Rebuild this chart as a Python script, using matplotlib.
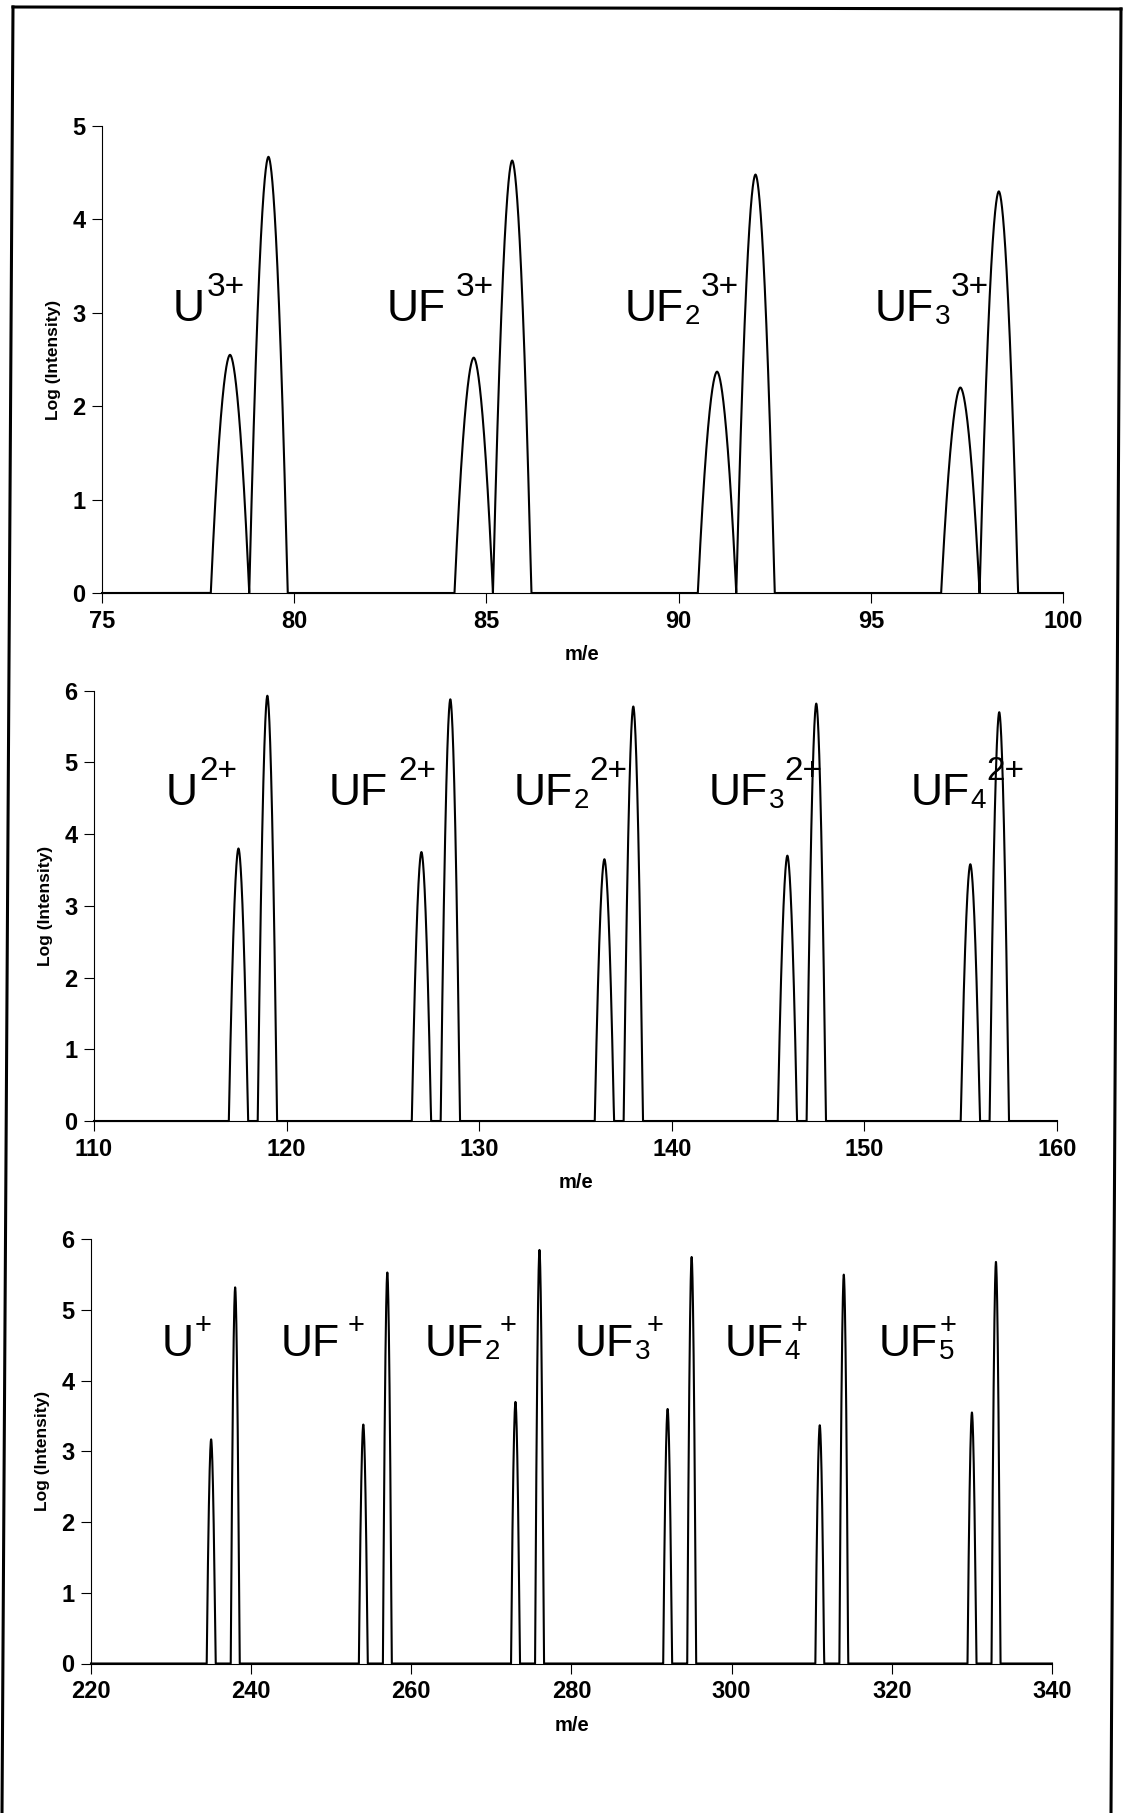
import numpy as np
import matplotlib.pyplot as plt
from matplotlib.lines import Line2D
from matplotlib.transforms import offset_copy

plt.rcParams['font.family'] = ['Liberation Sans', 'DejaVu Sans']

W, H = 1127, 1813

# --- data (m/e of 235U / 238U species, log intensity) ---
p1_centres = [78.33, 79.33, 84.67, 85.67, 91.0, 92.0, 97.33, 98.33]
p1_heights = [2.55, 4.67, 2.52, 4.63, 2.37, 4.48, 2.20, 4.30]
p1_ions = [('U', '', '3+'), ('UF', '', '3+'), ('UF', '2', '3+'), ('UF', '3', '3+')]

p2_centres = [117.5, 119.0, 127.0, 128.5, 136.5, 138.0, 146.0, 147.5, 155.5, 157.0]
p2_heights = [3.80, 5.93, 3.75, 5.88, 3.65, 5.78, 3.70, 5.82, 3.58, 5.70]
p2_ions = [('U', '', '2+'), ('UF', '', '2+'), ('UF', '2', '2+'), ('UF', '3', '2+'),
           ('UF', '4', '2+')]

p3_centres = [235, 238, 254, 257, 273, 276, 292, 295, 311, 314, 330, 333]
p3_heights = [3.17, 5.32, 3.38, 5.53, 3.70, 5.85, 3.60, 5.75, 3.37, 5.50, 3.55, 5.68]
p3_ions = [('U', '', '+'), ('UF', '', '+'), ('UF', '2', '+'), ('UF', '3', '+'),
           ('UF', '4', '+'), ('UF', '5', '+')]

# label layout: left x (data units), baseline y, gap before charge (px),
# how far the charge sits over the subscript (0 = after it, 1 = stacked)
p1_lab_x = [76.85, 82.4, 88.6, 95.1]
p1_gap = [2, 10, 0, 0]
p1_stack = [0, 0, 0, 0]
p2_lab_x = [113.7, 122.2, 131.8, 141.9, 152.4]
p2_gap = [2, 10, 0, 0, 0]
p2_stack = [0, 0, 0, 0, 0]
p3_lab_x = [228.8, 243.7, 261.6, 280.4, 299.1, 318.4]
p3_gap = [1, 8, 0, 0, 0, 0]
p3_stack = [0, 0, 0, 0.25, 0.6, 1.0]


def spectrum(x, centres, heights, half=0.5, p=1.8):
    # each peak drawn as a cap that drops to the baseline at +-half
    y = np.zeros_like(x)
    for c, h in zip(centres, heights):
        d = np.abs(x - c) / half
        y = np.maximum(y, np.where(d < 1, h * (1 - d**p), 0))
    return y


fig = plt.figure(figsize=(W / 100, H / 100), dpi=100)
renderer = fig.canvas.get_renderer()


def ion_label(ax, x, y, ion, gap, stack, sup_size, sup_raise):
    base, sub, sup = ion
    t = ax.text(x, y, base, fontsize=32, va='baseline', ha='left')
    dx = t.get_window_extent(renderer).width
    if sub:
        ts = ax.text(x, y, sub, fontsize=20, va='baseline', ha='left',
                     transform=offset_copy(ax.transData, x=dx + 1, y=-3, units='dots'))
        ws = ts.get_window_extent(renderer).width
        dx = dx + 1 + ws * (1 - stack)
    ax.text(x, y, sup, fontsize=sup_size, va='baseline', ha='left',
            transform=offset_copy(ax.transData, x=dx + gap, y=sup_raise, units='dots'))


panels = [
    # pixel box (left, right, y0, ytop), xlim, ymax, xticks, peaks, labels
    ((102, 1063, 593, 126), (75, 100), 5, np.arange(75, 101, 5), 0.5,
     p1_centres, p1_heights, p1_ions, p1_lab_x, 2.91, p1_gap, p1_stack, 24, 25),
    ((94, 1057, 1121, 690.7), (110, 160), 6, np.arange(110, 161, 10), 0.5,
     p2_centres, p2_heights, p2_ions, p2_lab_x, 4.40, p2_gap, p2_stack, 24, 25),
    ((91, 1052, 1663.5, 1239.3), (220, 340), 6, np.arange(220, 341, 20), 0.55,
     p3_centres, p3_heights, p3_ions, p3_lab_x, 4.35, p3_gap, p3_stack, 21, 22),
]

for (box, xlim, ytop, xticks, half, cen, hts, ions, labx, laby,
     gaps, stacks, sup_size, sup_raise) in panels:
    l, r, yb, yt = box
    ax = fig.add_axes([l / W, 1 - yb / H, (r - l) / W, (yb - yt) / H])
    x = np.linspace(xlim[0], xlim[1], 30000)
    ax.plot(x, spectrum(x, cen, hts, half), color='black', lw=1.5,
            solid_joinstyle='round', clip_on=False)
    ax.set_xlim(*xlim)
    ax.set_ylim(0, ytop)
    ax.set_xticks(xticks)
    ax.set_yticks(range(0, ytop + 1))
    for s in ['top', 'right']:
        ax.spines[s].set_visible(False)
    for s in ['left', 'bottom']:
        ax.spines[s].set_linewidth(0.8)
    ax.tick_params(direction='out', length=7, width=0.8, labelsize=17, pad=5)
    for t in ax.get_xticklabels() + ax.get_yticklabels():
        t.set_fontweight('bold')
    ax.set_ylabel('Log (Intensity)', fontsize=12.5, fontweight='bold', labelpad=8)
    ax.set_xlabel('m/e', fontsize=14.5, fontweight='bold', labelpad=9)
    for ion, lx, g, st in zip(ions, labx, gaps, stacks):
        ion_label(ax, lx, laby, ion, g, st, sup_size, sup_raise)

# scanned page frame (left, top, right sides)
frame = [((2, 1813), (13, 7)), ((13, 7), (1121, 9)), ((1121, 9), (1111, 1813))]
for (x0, y0), (x1, y1) in frame:
    fig.add_artist(Line2D([x0 / W, x1 / W], [1 - y0 / H, 1 - y1 / H],
                          color='black', lw=2.2, transform=fig.transFigure))

fig.savefig('out.png', dpi=100)
